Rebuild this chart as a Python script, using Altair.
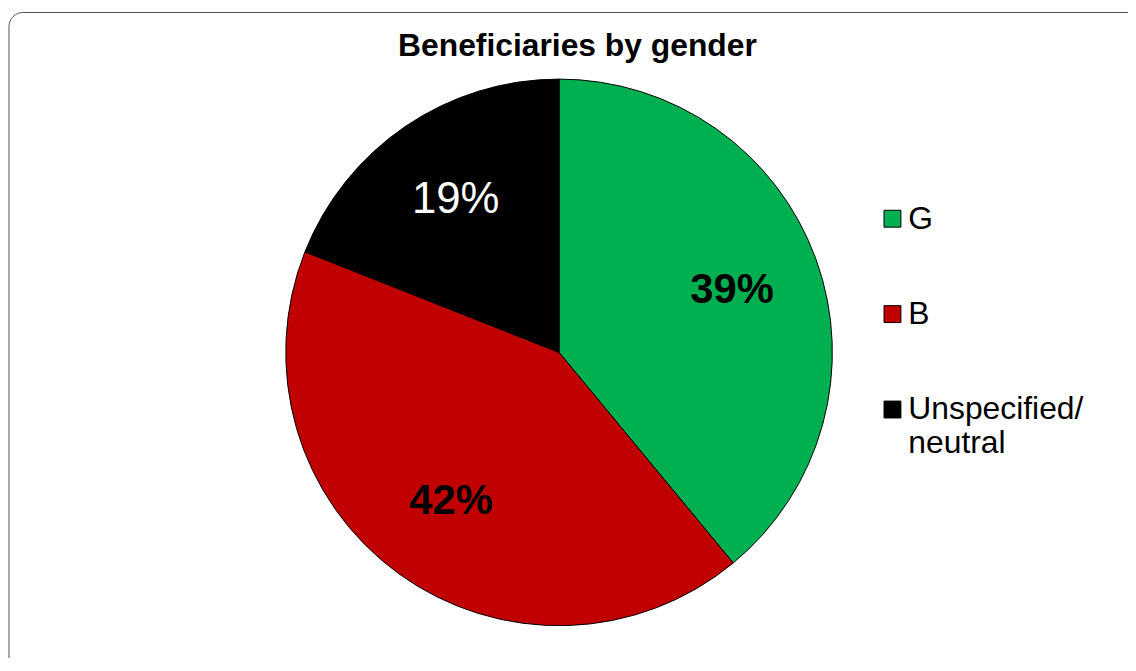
import altair as alt
import pandas as pd

categories = ["G", "B", "Unspecified/neutral"]
shares = [39, 42, 19]
share_labels = ["39%", "42%", "19%"]
slice_colors = ["#00B050", "#C00000", "#000000"]
title_text = "Beneficiaries by gender"

df = pd.DataFrame({
    "category": categories,
    "share": shares,
    "label": share_labels,
    "order": list(range(len(categories))),
})

FONT = "Liberation Sans"
CX, CY, R = 554, 342.5, 275

color_scale = alt.Scale(domain=categories, range=slice_colors)

base = alt.Chart(df).encode(
    theta=alt.Theta("share:Q", stack=True),
    order=alt.Order("order:Q"),
    x=alt.value(CX),
    y=alt.value(CY),
)

pie = base.mark_arc(radius=R, stroke="black", strokeWidth=1).encode(
    color=alt.Color(
        "category:N",
        scale=color_scale,
        sort=categories,
        legend=alt.Legend(
            title=None,
            orient="none",
            legendX=873.5,
            legendY=192,
            symbolType="square",
            symbolSize=289,
            symbolStrokeColor="black",
            symbolStrokeWidth=1,
            symbolOpacity=1,
            labelFont=FONT,
            labelFontSize=32,
            labelColor="black",
            labelOffset=0,
            labelLimit=400,
            rowPadding=64,
            padding=0,
            labelExpr="datum.label == 'Unspecified/neutral' ? ['Unspecified/', 'neutral'] : datum.label",
        ),
    )
)

bold_text = base.mark_text(
    radius=185, font=FONT, fontSize=42, fontWeight="bold",
    color="black", align="center", baseline="middle",
).encode(
    text=alt.condition(
        alt.datum.category != "Unspecified/neutral", alt.Text("label:N"), alt.value("")
    )
)

white_text = base.mark_text(
    radius=185, font=FONT, fontSize=44, fontWeight="normal",
    color="white", align="center", baseline="middle",
).encode(
    text=alt.condition(
        alt.datum.category == "Unspecified/neutral", alt.Text("label:N"), alt.value("")
    )
)

chart = (
    alt.layer(pie, bold_text, white_text)
    .properties(
        width=1147,
        height=700,
        padding={"left": 0.5, "top": 2, "right": -20.5, "bottom": -52},
        autosize=alt.AutoSizeParams(type="none"),
        title=alt.TitleParams(
            text=title_text,
            font=FONT,
            fontSize=32,
            fontWeight="bold",
            color="black",
            anchor="middle",
            baseline="alphabetic",
            offset=-76,
            dx=-1,
        ),
    )
    .configure_view(stroke="#555555", strokeWidth=1, cornerRadius=14)
)

chart.save("out.html", embed_options={"renderer": "svg", "actions": False})
